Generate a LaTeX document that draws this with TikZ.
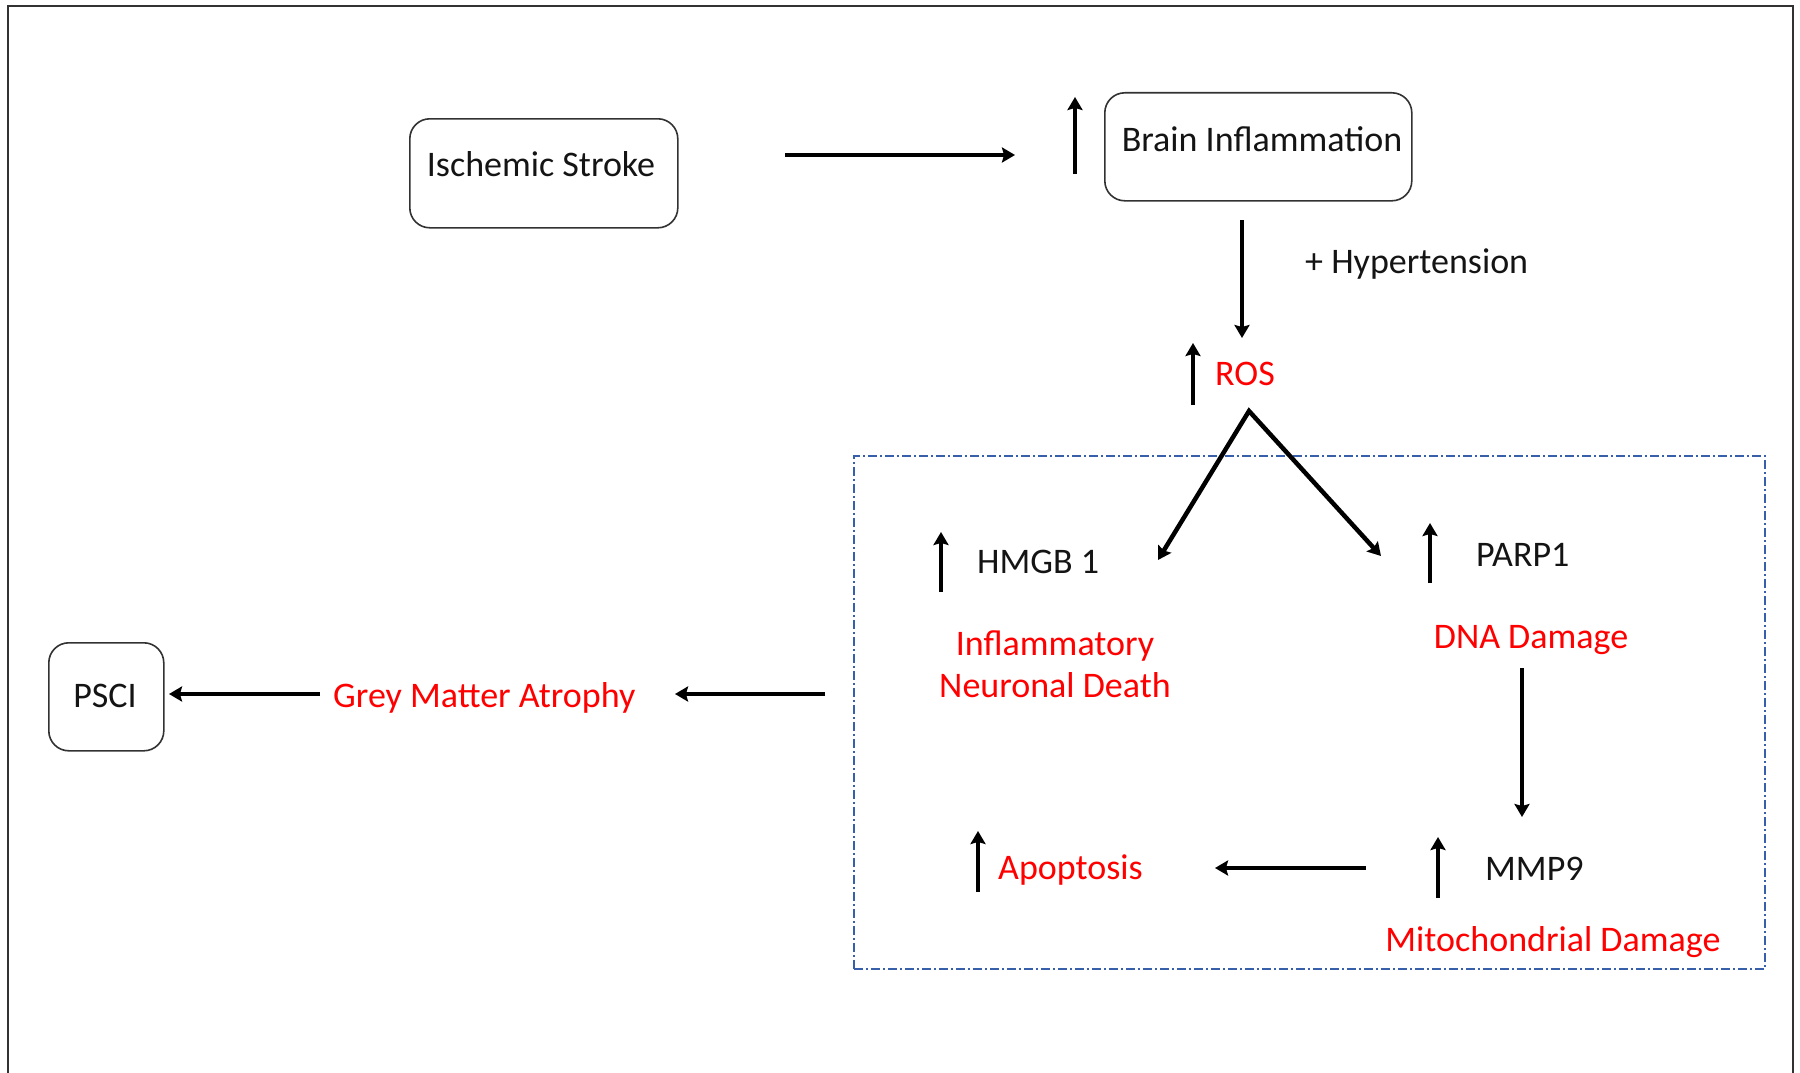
\documentclass[tikz,border=0pt]{standalone}
\usepackage{fontspec}
\setmainfont{Carlito}
\usetikzlibrary{arrows.meta}
\definecolor{txt}{RGB}{20,20,20}
\definecolor{redtxt}{RGB}{255,0,0}
\definecolor{dashblue}{RGB}{55,95,170}
\definecolor{framegray}{RGB}{50,50,50}
\begin{document}
\begin{tikzpicture}[x=1pt,y=-1pt,
  lbl/.style={inner sep=0pt, font=\fontsize{36}{43}\selectfont, text=txt},
  redlbl/.style={lbl, text=redtxt},
  rbox/.style={draw=framegray, line width=1.6pt, rounded corners=20pt, inner sep=0pt, anchor=north west},
  tip/.tip={Stealth[length=13pt,width=15pt,inset=2pt]},
  arr/.style={line width=4.5pt, draw=black, -tip},
]
\useasboundingbox (0,0) rectangle (1800,1073);
% outer frame
\draw[framegray, line width=2pt] (8,1073) -- (8,6) -- (1793,6) -- (1793,1073);

% boxes
\node[rbox, minimum width=268pt, minimum height=109pt] (isbox) at (409,118) {};
\node[rbox, minimum width=307pt, minimum height=108pt] (brbox) at (1104,92) {};
\node[rbox, minimum width=115pt, minimum height=108pt] (psbox) at (48,642) {};
\node[draw=dashblue, line width=1.6pt, dash pattern=on 9pt off 3pt on 2pt off 3pt,
      minimum width=911pt, minimum height=513pt, inner sep=0pt, anchor=north west] (dbox) at (853,455) {};

% labels
\node[lbl, anchor=base] (is) at (541,176) {Ischemic Stroke};
\node[lbl, anchor=base] (br) at (1262,151) {Brain Inflammation};
\node[lbl, anchor=base west] (hyp) at (1305,273) {+ Hypertension};
\node[redlbl, anchor=base west] (ros) at (1215,385) {ROS};
\node[lbl, anchor=base west] (hmgb) at (977,573) {HMGB 1};
\node[redlbl, anchor=base] (infl) at (1055,655) {Inflammatory};
\node[redlbl, anchor=base] (neur) at (1055,697) {Neuronal Death};
\node[lbl, anchor=base west] (parp) at (1476,566) {PARP1};
\node[redlbl, anchor=base] (dna) at (1531,648) {DNA Damage};
\node[lbl, anchor=base west] (mmp) at (1485,880) {MMP9};
\node[redlbl, anchor=base] (mito) at (1553,951) {Mitochondrial Damage};
\node[redlbl, anchor=base west] (apo) at (998,879) {Apoptosis};
\node[redlbl, anchor=base west] (grey) at (333,707) {Grey Matter Atrophy};
\node[lbl, anchor=base] (psci) at (105,707) {PSCI};

% arrow end points
\coordinate (a1s) at (785,155);   \coordinate (a1e) at (1015,155);
\coordinate (u1s) at (1075,174);  \coordinate (u1e) at (1075,97);
\coordinate (d1s) at (1242,220);  \coordinate (d1e) at (1242,338);
\coordinate (u2s) at (1193,405);  \coordinate (u2e) at (1193,343);
\coordinate (apex) at (1249,411);
\coordinate (hTip) at (1158,560); \coordinate (pTip) at (1381,556);
\coordinate (u3s) at (941,592);   \coordinate (u3e) at (941,532);
\coordinate (u4s) at (1430,583);  \coordinate (u4e) at (1430,523);
\coordinate (d2s) at (1522,668);  \coordinate (d2e) at (1522,817);
\coordinate (u5s) at (1438,898);  \coordinate (u5e) at (1438,837);
\coordinate (l1s) at (1366,868);  \coordinate (l1e) at (1215,868);
\coordinate (u6s) at (978,892);   \coordinate (u6e) at (978,831);
\coordinate (l2s) at (825,694);   \coordinate (l2e) at (675,694);
\coordinate (l3s) at (320,694);   \coordinate (l3e) at (169,694);

% connectors
\draw[arr] (a1s) -- (a1e);
\draw[arr] (u1s) -- (u1e);
\draw[arr] (d1s) -- (d1e);
\draw[arr] (u2s) -- (u2e);
\draw[line width=4.5pt, tip-tip, miter limit=10] (hTip) -- (apex) -- (pTip);
\draw[arr] (u3s) -- (u3e);
\draw[arr] (u4s) -- (u4e);
\draw[arr] (d2s) -- (d2e);
\draw[arr] (u5s) -- (u5e);
\draw[arr] (l1s) -- (l1e);
\draw[arr] (u6s) -- (u6e);
\draw[arr] (l2s) -- (l2e);
\draw[arr] (l3s) -- (l3e);
\end{tikzpicture}
\end{document}
